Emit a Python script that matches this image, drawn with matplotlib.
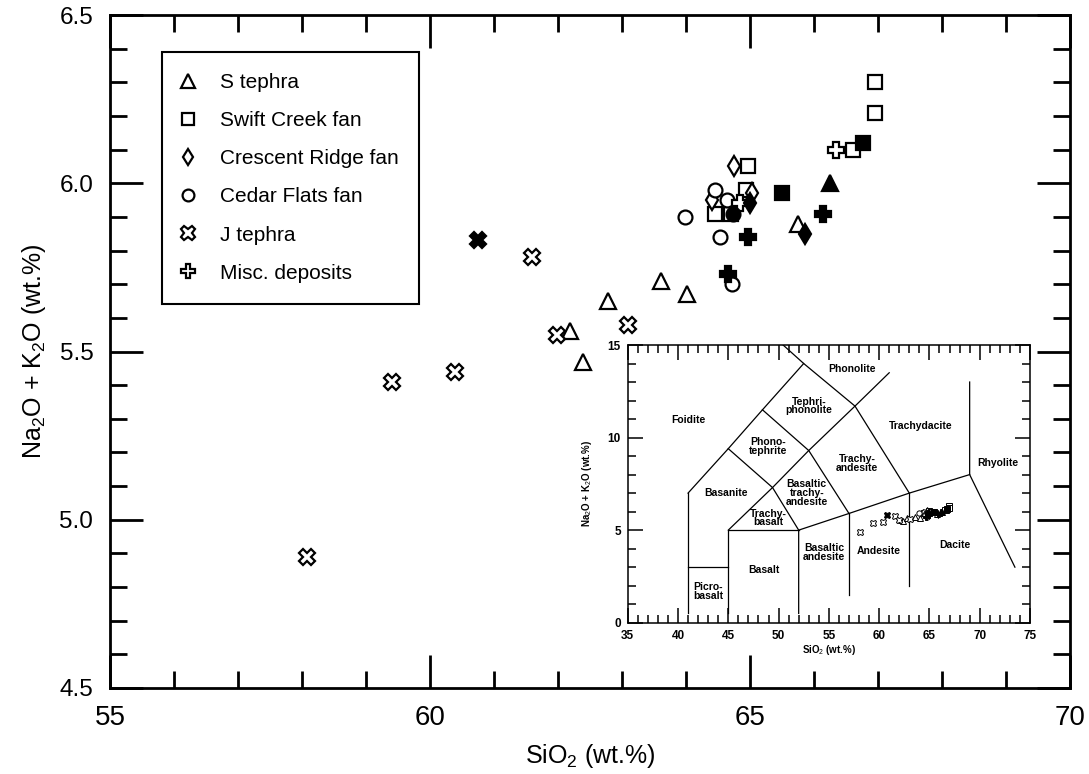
import matplotlib
matplotlib.use('Agg')
import matplotlib.pyplot as plt
from matplotlib import font_manager
from matplotlib.ticker import MultipleLocator, FormatStrFormatter

# --- data (SiO2, Na2O+K2O in wt.%) ---
s_open_x = [62.19, 62.39, 62.78, 63.61, 64.02, 65.75]
s_open_y = [5.56, 5.47, 5.65, 5.71, 5.67, 5.88]
s_fill_x = [66.25]
s_fill_y = [6.00]

swift_open_x = [66.95, 66.95, 66.61, 64.97, 64.94, 64.45, 64.70]
swift_open_y = [6.30, 6.21, 6.10, 6.05, 5.98, 5.91, 5.91]
swift_fill_x = [66.77, 65.50]
swift_fill_y = [6.12, 5.97]

cres_open_x = [64.75, 65.03, 64.41]
cres_open_y = [6.05, 5.97, 5.95]
cres_fill_x = [65.00, 65.86]
cres_fill_y = [5.94, 5.85]

cedar_open_x = [64.45, 64.64, 63.98, 64.53, 64.72]
cedar_open_y = [5.98, 5.95, 5.90, 5.84, 5.70]
cedar_fill_x = [64.73]
cedar_fill_y = [5.91]

j_open_x = [61.59, 61.98, 63.09, 60.39, 59.41, 58.08]
j_open_y = [5.78, 5.55, 5.58, 5.44, 5.41, 4.89]
j_fill_x = [60.75]
j_fill_y = [5.83]

misc_open_x = [66.34, 64.84]
misc_open_y = [6.10, 5.94]
misc_fill_x = [66.14, 64.97, 64.66]
misc_fill_y = [5.91, 5.84, 5.73]

labels = ['S tephra', 'Swift Creek fan', 'Crescent Ridge fan',
          'Cedar Flats fan', 'J tephra', 'Misc. deposits']

# TAS field boundaries (Le Bas et al. 1986)
tas_lines = [
    [(41, 0.5), (41, 7)],
    [(41, 3), (45, 3)],
    [(45, 0.5), (45, 5), (52, 5)],
    [(52, 0.5), (52, 5), (57, 5.9), (63, 7), (69, 8)],
    [(57, 1.5), (57, 5.9)],
    [(63, 2), (63, 7)],
    [(69, 13), (69, 8), (73.5, 3)],
    [(45, 5), (49.4, 7.3), (53, 9.3), (57.6, 11.7), (61, 13.5)],
    [(41, 7), (45, 9.4), (48.4, 11.5), (52.5, 14), (48.4, 16)],
    [(45, 9.4), (49.4, 7.3), (52, 5)],
    [(48.4, 11.5), (53, 9.3), (57, 5.9)],
    [(52.5, 14), (57.6, 11.7), (63, 7)],
]
tas_names = ['Foidite', 'Phonolite', 'Tephri-\nphonolite', 'Trachydacite',
             'Phono-\ntephrite', 'Trachy-\nandesite', 'Rhyolite', 'Basanite',
             'Basaltic\ntrachy-\nandesite', 'Trachy-\nbasalt', 'Basaltic\nandesite',
             'Andesite', 'Dacite', 'Basalt', 'Picro-\nbasalt']
tas_name_x = [41.0, 57.3, 53.0, 64.1, 49.0, 57.8, 71.8, 44.8, 52.8, 49.0, 54.5, 60.0, 67.5, 48.5, 43.0]
tas_name_y = [10.95, 13.7, 11.7, 10.6, 9.5, 8.6, 8.6, 7.0, 7.0, 5.65, 3.8, 3.85, 4.2, 2.85, 1.7]

names = {f.name for f in font_manager.fontManager.ttflist}
narrow = 'Liberation Sans Narrow' if 'Liberation Sans Narrow' in names else 'Liberation Sans'

plt.rcParams['font.family'] = ['Liberation Sans', 'DejaVu Sans']
plt.rcParams['mathtext.fontset'] = 'custom'
plt.rcParams['mathtext.rm'] = narrow
plt.rcParams['mathtext.it'] = narrow

fig = plt.figure(figsize=(10.89, 7.74), dpi=100)
ax = fig.add_axes([110/1089, 86/774, 960/1089, 673/774])

groups = [
    ('^', 12, s_open_x, s_open_y, s_fill_x, s_fill_y),
    ('s', 10, swift_open_x, swift_open_y, swift_fill_x, swift_fill_y),
    ('d', 10, cres_open_x, cres_open_y, cres_fill_x, cres_fill_y),
    ('o', 10, cedar_open_x, cedar_open_y, cedar_fill_x, cedar_fill_y),
    ('X', 12, j_open_x, j_open_y, j_fill_x, j_fill_y),
    ('P', 12, misc_open_x, misc_open_y, misc_fill_x, misc_fill_y),
]

handles = []
for (m, ms, ox, oy, fx, fy), lab in zip(groups, labels):
    h, = ax.plot(ox, oy, ls='none', marker=m, ms=ms, mfc='white', mec='black',
                 mew=1.6, label=lab, zorder=3)
    ax.plot(fx, fy, ls='none', marker=m, ms=ms, mfc='black', mec='black',
            mew=1.6, zorder=4)
    handles.append(h)

ax.set_xlim(55, 70)
ax.set_ylim(4.5, 6.5)
ax.xaxis.set_major_locator(MultipleLocator(5))
ax.xaxis.set_minor_locator(MultipleLocator(1))
ax.yaxis.set_major_locator(MultipleLocator(0.5))
ax.yaxis.set_minor_locator(MultipleLocator(0.1))
ax.yaxis.set_major_formatter(FormatStrFormatter('%.1f'))
ax.tick_params(which='both', direction='in', top=True, right=True, width=2)
ax.tick_params(which='major', length=24)
ax.tick_params(which='minor', length=12)
ax.tick_params(axis='x', pad=12, labelsize=20, labelfontfamily=narrow)
ax.tick_params(axis='y', pad=12, labelsize=17.5)
for sp in ax.spines.values():
    sp.set_linewidth(2)

ax.set_xlabel('SiO$_2$ (wt.%)', fontsize=18, family=narrow, labelpad=8)
ax.set_ylabel('Na$_2$O + K$_2$O (wt.%)', fontsize=18, family=narrow, labelpad=8)

leg = ax.legend(handles=handles, loc='upper left', bbox_to_anchor=(0.054, 0.945),
                borderaxespad=0, fontsize=15, labelspacing=0.92, borderpad=1.0,
                handlelength=0.5, handletextpad=1.28, markerscale=0.85,
                fancybox=False, framealpha=1, edgecolor='black')
leg.get_frame().set_linewidth(1.5)

# --- inset TAS diagram ---
ins = fig.add_axes([627.7/1089, (774 - 622.7)/774, 402.3/1089, 277.7/774])
for seg in tas_lines:
    ins.plot([p[0] for p in seg], [p[1] for p in seg], color='black', lw=0.9, zorder=2)
for name, tx, ty in zip(tas_names, tas_name_x, tas_name_y):
    ins.text(tx, ty, name, ha='center', va='center', fontsize=7.5,
             fontweight='bold', linespacing=0.85)
for m, ms, ox, oy, fx, fy in groups:
    ins.plot(ox, oy, ls='none', marker=m, ms=ms*0.38, mfc='white', mec='black', mew=0.7, zorder=3)
    ins.plot(fx, fy, ls='none', marker=m, ms=ms*0.38, mfc='black', mec='black', mew=0.7, zorder=4)

ins.set_xlim(35, 75)
ins.set_ylim(0, 15)
ins.xaxis.set_major_locator(MultipleLocator(5))
ins.xaxis.set_minor_locator(MultipleLocator(1))
ins.yaxis.set_major_locator(MultipleLocator(5))
ins.yaxis.set_minor_locator(MultipleLocator(1))
ins.tick_params(which='both', direction='in', top=True, right=True, width=1.1)
ins.tick_params(which='major', length=11, labelsize=8.5, pad=5)
ins.tick_params(which='minor', length=6)
for lab in ins.get_xticklabels() + ins.get_yticklabels():
    lab.set_fontweight('bold')
for sp in ins.spines.values():
    sp.set_linewidth(1.1)
ins.set_xlabel('SiO$_2$ (wt.%)', fontsize=7, fontweight='bold', labelpad=1)
ins.set_ylabel('Na$_2$O + K$_2$O (wt.%)', fontsize=7, fontweight='bold', labelpad=10)

fig.savefig('out.png', dpi=100)
